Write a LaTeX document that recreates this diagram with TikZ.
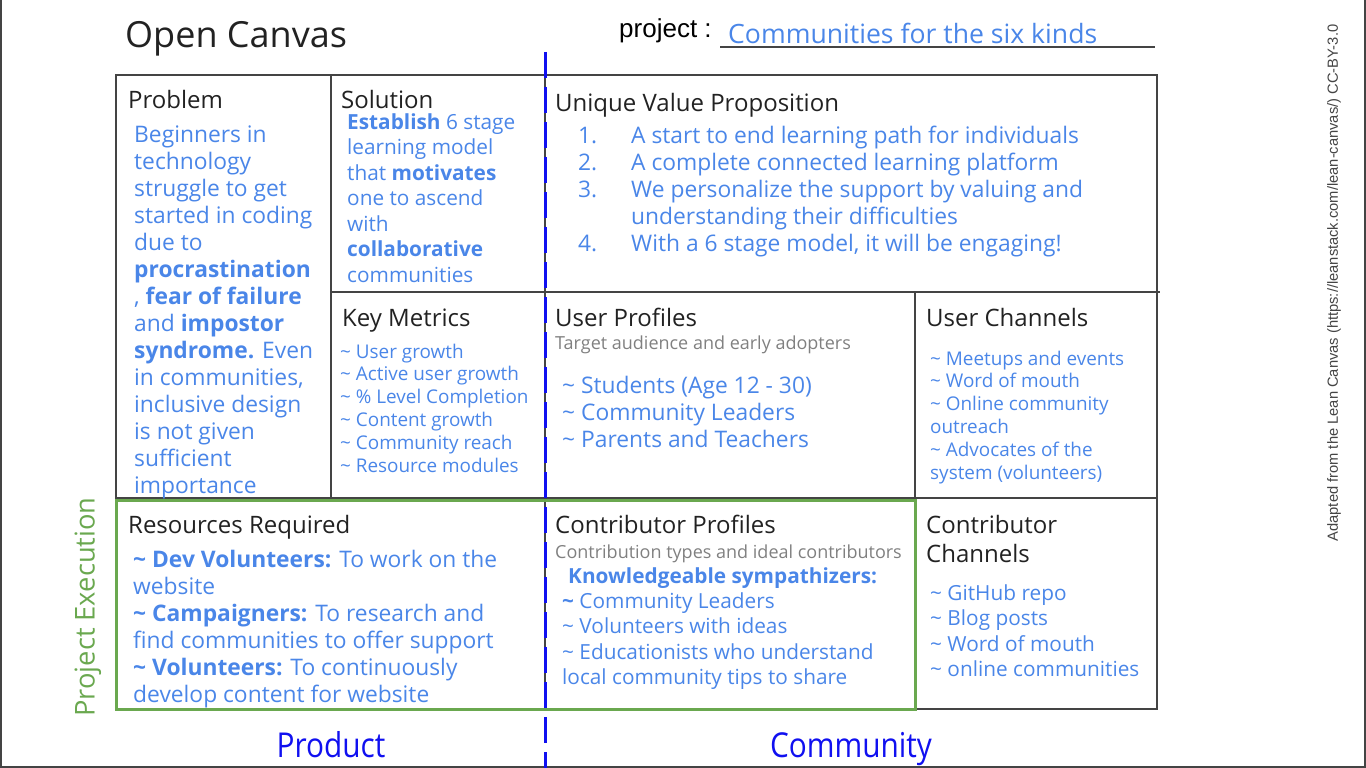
\documentclass[tikz,border=0pt]{standalone}
\usepackage{fontspec}
\usepackage{graphicx}
\setmainfont{Open Sans}
\newfontfamily\arialfont{Liberation Sans}
\definecolor{ink}{HTML}{222222}
\definecolor{txtblue}{HTML}{4A86E8}
\definecolor{subgray}{HTML}{808080}
\definecolor{gridgray}{HTML}{444444}
\definecolor{execgreen}{HTML}{6AA84F}
\definecolor{axisblue}{HTML}{1010F0}
\newcommand\setpx[1]{\fontsize{#1}{#1}\selectfont}
\newcommand\tildemark{\textasciitilde}
\tikzset{
  gridline/.style={draw=gridgray, line width=1.5pt},
  head/.style={anchor=base west, inner sep=0pt, text=ink, font=\setpx{24}},
  sub/.style={anchor=base west, inner sep=0pt, text=subgray, font=\setpx{18}},
  bodyL/.style={anchor=base west, inner sep=0pt, text=txtblue, font=\setpx{22.8}},
  bodyM/.style={anchor=base west, inner sep=0pt, text=txtblue, font=\setpx{20.8}},
  bodyS/.style={anchor=base west, inner sep=0pt, text=txtblue, font=\setpx{18.9}},
  axislabel/.style={anchor=base, inner sep=0pt, text=axisblue, font=\setpx{29.8}},
}
\begin{document}
\begin{tikzpicture}[x=1pt, y=-1pt]
\useasboundingbox (0,0) rectangle (1366,768);
% page frame (left, bottom, right)
\draw[gridgray, line width=2pt] (0.5,0) -- (0.5,767) -- (1365,767) -- (1365,0);

% title and project name
\node[anchor=base west, inner sep=0pt, text=ink, font=\setpx{36}] (title) at (125,48) {Open Canvas};
\node[anchor=base west, inner sep=0pt, text=black, font=\arialfont\fontsize{26}{26}\selectfont] (projlbl) at (619,38) {project :};
\coordinate (ulA) at (720,47);
\coordinate (ulB) at (1155,47);
\draw[gridgray, line width=1.5pt] (ulA) -- (ulB);
\node[anchor=base west, inner sep=0pt, text=txtblue, font=\setpx{26.6}] (projname) at (728,44) {Communities for the six kinds};

% canvas grid
\draw[gridline] (116,75) rectangle (1157,709);
\draw[gridline] (331,75) -- (331,498);
\draw[gridline] (545,75) -- (545,709);
\draw[gridline] (331,292) -- (1160,292);
\draw[gridline] (915,292) -- (915,709);
\draw[gridline] (116,498) -- (1157,498);

% execution frame
\draw[execgreen, line width=3pt] (116,500) rectangle (915,709);
\node[rotate=90, inner sep=0pt, text=execgreen, font=\setpx{27.3}] (exec) at (88,607) {Project Execution};

% product / community split
\coordinate (splitTop) at (545,52);
\coordinate (splitBot) at (545,768);
\draw[axisblue, line width=3pt, dash pattern=on 26pt off 9pt] (splitTop) -- (splitBot);
\node[axislabel] (product) at (331,757) {\scalebox{1}[1.15]{Product}};
\node[axislabel] (community) at (851,757) {\scalebox{1}[1.15]{Community}};

% attribution
\node[rotate=90, inner sep=0pt, text=gridgray, font=\arialfont\fontsize{14.7}{14.7}\selectfont] (credit) at (1334,283) {Adapted from the Lean Canvas (https://leanstack.com/lean-canvas/) CC-BY-3.0};

% Problem
\node[head] (hProblem) at (128,108) {Problem};
\foreach \t [count=\i from 0] in {Beginners in, technology, struggle to get, started in coding, due to, \textbf{procrastination}, {, \textbf{fear of failure}}, and \textbf{impostor}, \textbf{syndrome.} Even, {in communities,}, inclusive design, is not given, sufficient, importance}
  \node[bodyL] (prob\i) at (134,142+27*\i) {\t};

% Solution
\node[head] (hSolution) at (341,108) {Solution};
\foreach \t [count=\i from 0] in {\textbf{Establish} 6 stage, learning model, that \textbf{motivates}, one to ascend, with, \textbf{collaborative}, communities}
  \node[bodyM] (sol\i) at (347,129+25.5*\i) {\t};

% Unique Value Proposition
\node[head] (hUVP) at (555,111) {Unique Value Proposition};
\foreach \n/\y in {1/0,2/1,3/2,4/4}
  \node[bodyL] (uvpnum\n) at (578,143+27*\y) {\n.};
\foreach \t [count=\i from 0] in {A start to end learning path for individuals, A complete connected learning platform, We personalize the support by valuing and, understanding their difficulties, {With a 6 stage model, it will be engaging!}}
  \node[bodyL] (uvp\i) at (631,143+27*\i) {\t};

% Key Metrics
\node[head] (hMetrics) at (342,326) {Key Metrics};
\foreach \t [count=\i from 0] in {User growth, Active user growth, \% Level Completion, Content growth, Community reach, Resource modules}
  \node[bodyS] (km\i) at (340,358+22.8*\i) {\tildemark{} \t};

% User Profiles
\node[head] (hUsers) at (555,326) {User Profiles};
\node[sub] (subUsers) at (555,349) {Target audience and early adopters};
\foreach \t [count=\i from 0] in {Students (Age 12 - 30), Community Leaders, Parents and Teachers}
  \node[bodyL] (up\i) at (562,393+27*\i) {\tildemark{} \t};

% User Channels
\node[head] (hUChan) at (926,326) {User Channels};
\foreach \t [count=\i from 0] in {\tildemark{} Meetups and events, \tildemark{} Word of mouth, \tildemark{} Online community, outreach, \tildemark{} Advocates of the, system (volunteers)}
  \node[bodyS] (uc\i) at (930,365+22.8*\i) {\t};

% Resources Required
\node[head] (hRes) at (128,533) {Resources Required};
\foreach \t [count=\i from 0] in {\textbf{\tildemark{} Dev Volunteers:} To work on the, website, \textbf{\tildemark{} Campaigners:} To research and, find communities to offer support, \textbf{\tildemark{} Volunteers:} To continuously, develop content for website}
  \node[bodyL] (res\i) at (133,567+27*\i) {\t};

% Contributor Profiles
\node[head] (hContrib) at (555,533) {Contributor Profiles};
\node[sub] (subContrib) at (555,558) {Contribution types and ideal contributors};
\node[bodyM, font=\bfseries\setpx{20.8}] (cpHead) at (568,583) {Knowledgeable sympathizers:};
\foreach \t [count=\i from 0] in {\textbf{\tildemark} Community Leaders, \tildemark{} Volunteers with ideas, \tildemark{} Educationists who understand, local community tips to share}
  \node[bodyM] (cp\i) at (562,608+25.6*\i) {\t};

% Contributor Channels
\node[head] (hCChan1) at (926,533) {Contributor};
\node[head] (hCChan2) at (926,562) {Channels};
\foreach \t [count=\i from 0] in {GitHub repo, Blog posts, Word of mouth, online communities}
  \node[bodyM] (cc\i) at (930,600+25.6*\i) {\tildemark{} \t};
\end{tikzpicture}
\end{document}
